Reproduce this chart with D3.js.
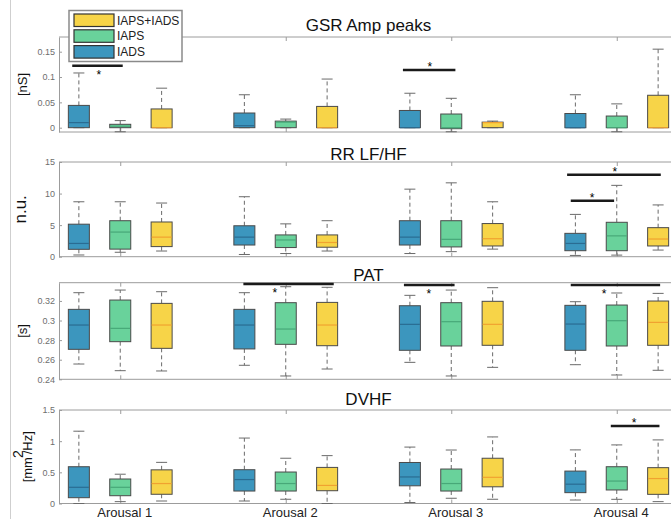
<!DOCTYPE html>
<html>
<head>
<meta charset="utf-8">
<script src="https://cdn.jsdelivr.net/npm/d3@7"></script>
<style>
  body { margin: 0; background: #fff; }
  svg { display: block; font-family: "Liberation Sans", Arial, sans-serif; }
</style>
</head>
<body>
<svg id="chart" width="671" height="519"></svg>
<script>
const groups = ['Arousal 1', 'Arousal 2', 'Arousal 3', 'Arousal 4']
const series = ['IADS', 'IAPS', 'IAPS+IADS']

// each box: [lower whisker, q1, median, q3, upper whisker], one per arousal group
const gsrIADS = [[0, 0, 0.01, 0.044, 0.108], [0, 0, 0.004, 0.029, 0.065], [0, 0, 0, 0.034, 0.068], [0, 0, 0, 0.028, 0.065]]
const gsrIAPS = [[-0.008, 0, 0.003, 0.0067, 0.014], [0, 0, 0.011, 0.013, 0.017], [-0.008, -0.002, 0, 0.027, 0.058], [-0.008, 0, 0, 0.023, 0.047]]
const gsrBoth = [[0, 0, 0, 0.037, 0.078], [0, 0, 0, 0.042, 0.096], [0, 0, 0.01, 0.011, 0.013], [0, 0, 0, 0.064, 0.155]]

const rrIADS = [[0.27, 1.17, 2.1, 5.15, 8.7], [0.35, 1.85, 3.1, 4.9, 9.5], [0.5, 1.85, 3.1, 5.7, 10.7], [0.2, 0.95, 2.1, 3.7, 6.7]]
const rrIAPS = [[0.7, 1.2, 3.9, 5.7, 8.7], [0.5, 1.45, 2.65, 3.45, 5.2], [0.8, 1.55, 2.75, 5.7, 11.7], [0.25, 0.95, 3.3, 5.45, 11.3]]
const rrBoth = [[0.9, 1.6, 3.1, 5.5, 8.5], [0.9, 1.5, 2.25, 3.45, 5.7], [1.2, 1.7, 2.85, 5.25, 8.7], [1.05, 1.7, 2.8, 4.6, 8.2]]

const patIADS = [[0.2556, 0.2706, 0.2954, 0.3114, 0.3284], [0.2543, 0.271, 0.2954, 0.3114, 0.3284], [0.2573, 0.2696, 0.2961, 0.3151, 0.3257], [0.2549, 0.2696, 0.2964, 0.3155, 0.3192]]
const patIAPS = [[0.2488, 0.2784, 0.292, 0.3209, 0.3311], [0.2434, 0.2757, 0.2913, 0.3182, 0.3345], [0.2434, 0.274, 0.2988, 0.3182, 0.3311], [0.2444, 0.274, 0.2998, 0.3158, 0.3281]]
const patBoth = [[0.2485, 0.2716, 0.2954, 0.3175, 0.3294], [0.2505, 0.2743, 0.2954, 0.3185, 0.3339], [0.2522, 0.2747, 0.2961, 0.3196, 0.3335], [0.2492, 0.2747, 0.2981, 0.3199, 0.3277]]

const dvIADS = [[0, 0.093, 0.26, 0.59, 1.16], [0.04, 0.2, 0.384, 0.542, 1.05], [0.016, 0.284, 0.426, 0.658, 0.905], [0.056, 0.174, 0.31, 0.52, 0.86]]
const dvIAPS = [[0.03, 0.125, 0.26, 0.393, 0.47], [0.068, 0.2, 0.32, 0.505, 0.726], [0.084, 0.2, 0.32, 0.553, 0.858], [0.067, 0.217, 0.36, 0.59, 0.94]]
const dvBoth = [[0.04, 0.148, 0.32, 0.54, 0.66], [0, 0.205, 0.29, 0.579, 0.768], [0.068, 0.268, 0.42, 0.726, 1.068], [0.03, 0.147, 0.4, 0.575, 1.02]]

// y tick values
const gsrTicks = [0, 0.05, 0.1, 0.15]
const rrTicks = [0, 5, 10, 15]
const patTicks = [0.24, 0.26, 0.28, 0.3, 0.32]
const dvTicks = [0, 0.5, 1, 1.5]

// significance bars: [from x, to x, y value, star x, star above?] (x in group units)
const gsrSig = [[-0.29, 0.015, 0.1224, -0.13, false], [1.708, 2.025, 0.114, 1.871, true]]
const rrSig = [[2.722, 2.984, 8.85, 2.851, true], [2.70, 3.266, 13.0, 2.988, true]]
const patSig = [[0.744, 1.29, 0.3373, 0.934, false], [1.714, 2.02, 0.3362, 1.864, false], [2.722, 3.262, 0.3362, 2.923, false]]
const dvSig = [[2.964, 3.258, 1.244, 3.105, true]]

const fills = ['#3c96be', '#69d29b', '#f7d448']
const medians = ['#2a6c92', '#47a878', '#f0a230']
const gray = '#9c9c9c'

const panels = [
  { title: 'GSR Amp peaks', label: '[nS]', data: [gsrIADS, gsrIAPS, gsrBoth], domain: [-0.0085, 0.179], ticks: gsrTicks, sig: gsrSig, top: 37, bottom: 132, titleY: 30.5 },
  { title: 'RR LF/HF', label: 'n.u.', data: [rrIADS, rrIAPS, rrBoth], domain: [0, 15], ticks: rrTicks, sig: rrSig, top: 162, bottom: 256.7, titleY: 160 },
  { title: 'PAT', label: '[s]', data: [patIADS, patIAPS, patBoth], domain: [0.24, 0.3386], ticks: patTicks, sig: patSig, top: 282.7, bottom: 379.3, titleY: 280.5 },
  { title: 'DVHF', label: 'mm', data: [dvIADS, dvIAPS, dvBoth], domain: [0, 1.5], ticks: dvTicks, sig: dvSig, top: 410, bottom: 503.5, titleY: 405 }
]

const svg = d3.select('#chart')
const left = 59, right = 678
const x = d3.scaleLinear().domain([-0.37, 3.37]).range([left, right])
const offsets = [-0.25, 0, 0.25]
const boxW = x(0.127) - x(0)
const capW = 11

// left page rule
svg.append('line').attr('x1', 10.5).attr('x2', 10.5).attr('y1', 0).attr('y2', 519)
  .attr('stroke', '#cfcfcf')

panels.forEach((p, pi) => {
  const y = d3.scaleLinear().domain(p.domain).range([p.bottom, p.top])
  const g = svg.append('g')

  // frame
  g.append('line').attr('x1', left).attr('x2', right).attr('y1', p.top).attr('y2', p.top).attr('stroke', gray)
  g.append('line').attr('x1', left).attr('x2', right).attr('y1', p.bottom).attr('y2', p.bottom).attr('stroke', gray)

  const yAxis = g.append('g')
    .attr('transform', `translate(${left},0)`)
    .call(d3.axisLeft(y).tickValues(p.ticks).tickSize(-3).tickSizeOuter(0).tickPadding(4).tickFormat(d => String(d)))
  yAxis.select('.domain').attr('stroke', gray)
  yAxis.selectAll('line').attr('stroke', gray)
  yAxis.selectAll('text').attr('fill', '#6e6e6e').style('font-size', '9px')

  const isLast = pi === panels.length - 1
  const xBottom = g.append('g')
    .attr('transform', `translate(0,${p.bottom})`)
    .call(d3.axisBottom(x).tickValues([0, 1, 2, 3]).tickSize(-4).tickSizeOuter(0).tickPadding(4)
      .tickFormat(d => isLast ? groups[d] : ''))
  xBottom.select('.domain').remove()
  xBottom.selectAll('line').attr('stroke', gray)
  xBottom.selectAll('text').attr('fill', '#222').attr('dx', 4).style('font-size', '13px')

  const xTop = g.append('g')
    .attr('transform', `translate(0,${p.top})`)
    .call(d3.axisTop(x).tickValues([0, 1, 2, 3]).tickSize(-4).tickSizeOuter(0).tickFormat(''))
  xTop.select('.domain').remove()
  xTop.selectAll('line').attr('stroke', gray)

  // title
  g.append('text').attr('x', (left + right) / 2).attr('y', p.titleY)
    .attr('text-anchor', 'middle').style('font-size', '17px').attr('fill', '#111')
    .text(p.title)

  // y label
  const yc = (p.top + p.bottom) / 2
  if (p.label === 'mm') {
    const t = g.append('text').attr('transform', `translate(32,${yc}) rotate(-90)`)
      .attr('text-anchor', 'middle').style('font-size', '13px').attr('fill', '#111')
    t.append('tspan').text('[mm')
    t.append('tspan').attr('dy', -9).attr('dx', -1).style('font-size', '14px').text('2')
    t.append('tspan').attr('dy', 9).attr('dx', -4).text('/Hz]')
  } else {
    g.append('text').attr('transform', `translate(${p.label === 'n.u.' ? 26 : 26.5},${yc}) rotate(-90)`)
      .attr('text-anchor', 'middle').style('font-size', p.label === 'n.u.' ? '17px' : '13px').attr('fill', '#111')
      .text(p.label)
  }

  // boxes
  p.data.forEach((boxes, si) => {
    const sg = g.append('g')
    const items = sg.selectAll('g.box').data(boxes).enter().append('g').attr('class', 'box')
    const cx = (d, gi) => x(gi + offsets[si])

    items.append('line')
      .attr('x1', (d, i) => cx(d, i)).attr('x2', (d, i) => cx(d, i))
      .attr('y1', d => y(d[3])).attr('y2', d => y(d[4]))
      .attr('stroke', '#6a6a6a').attr('stroke-dasharray', '4,3')
    items.append('line')
      .attr('x1', (d, i) => cx(d, i)).attr('x2', (d, i) => cx(d, i))
      .attr('y1', d => y(d[1])).attr('y2', d => y(d[0]))
      .attr('stroke', '#6a6a6a').attr('stroke-dasharray', '4,3')
    items.append('line')
      .attr('x1', (d, i) => cx(d, i) - capW / 2).attr('x2', (d, i) => cx(d, i) + capW / 2)
      .attr('y1', d => y(d[4])).attr('y2', d => y(d[4]))
      .attr('stroke', '#6a6a6a')
    items.append('line')
      .attr('x1', (d, i) => cx(d, i) - capW / 2).attr('x2', (d, i) => cx(d, i) + capW / 2)
      .attr('y1', d => y(d[0])).attr('y2', d => y(d[0]))
      .attr('stroke', '#6a6a6a')
    items.append('rect')
      .attr('x', (d, i) => cx(d, i) - boxW / 2)
      .attr('y', d => y(d[3]))
      .attr('width', boxW)
      .attr('height', d => Math.max(1, y(d[1]) - y(d[3])))
      .attr('fill', fills[si]).attr('stroke', '#4a4a4a').attr('stroke-width', 1)
    items.append('line')
      .attr('x1', (d, i) => cx(d, i) - boxW / 2 + 0.5).attr('x2', (d, i) => cx(d, i) + boxW / 2 - 0.5)
      .attr('y1', d => y(d[2])).attr('y2', d => y(d[2]))
      .attr('stroke', medians[si]).attr('stroke-width', 1.2)
  })

  // significance bars
  p.sig.forEach(s => {
    g.append('line').attr('x1', x(s[0])).attr('x2', x(s[1]))
      .attr('y1', y(s[2])).attr('y2', y(s[2]))
      .attr('stroke', '#1a1a1a').attr('stroke-width', 2.5)
    g.append('text').attr('x', x(s[3])).attr('y', y(s[2]) + (s[4] ? 1 : 13))
      .attr('text-anchor', 'middle').style('font-size', '12px').attr('fill', '#000')
      .text('*')
  })
})

// legend
const legend = svg.append('g')
legend.append('rect').attr('x', 69).attr('y', 10.5).attr('width', 113).attr('height', 51)
  .attr('fill', '#fff').attr('stroke', '#8a8a8a').attr('stroke-width', 1.5)
const legendOrder = [2, 1, 0]
legendOrder.forEach((si, i) => {
  const ly = 14 + i * 15.8
  legend.append('rect').attr('x', 74).attr('y', ly).attr('width', 40).attr('height', 12.5)
    .attr('fill', fills[si]).attr('stroke', '#333').attr('stroke-width', 1.2)
  legend.append('text').attr('x', 117).attr('y', ly + 10.5)
    .style('font-size', '12px').attr('fill', '#222').text(series[si])
})
</script>
</body>
</html>
